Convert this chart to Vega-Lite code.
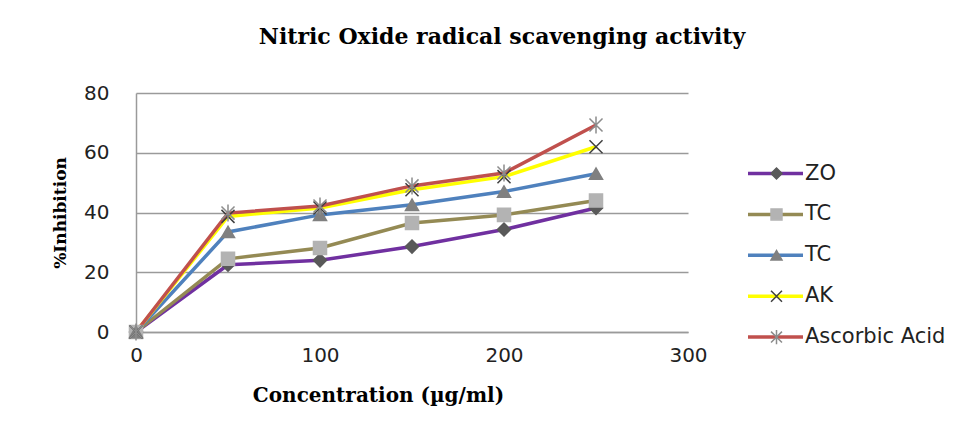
{
  "$schema": "https://vega.github.io/schema/vega-lite/v6.json",
  "autosize": "none",
  "width": 552,
  "height": 239,
  "padding": {"left": 136, "top": 93, "right": 276, "bottom": 96},
  "background": "white",
  "title": {
    "text": "Nitric Oxide radical scavenging activity",
    "font": "DejaVu Serif",
    "fontWeight": "bold",
    "fontSize": 22,
    "color": "#000000",
    "anchor": "middle",
    "dx": 90,
    "baseline": "bottom",
    "offset": 12
  },
  "data": {
    "values": [
      {"series": "ZO", "order": 1, "conc": 0, "inhibition": 0},
      {"series": "ZO", "order": 1, "conc": 50, "inhibition": 22.5},
      {"series": "ZO", "order": 1, "conc": 100, "inhibition": 24},
      {"series": "ZO", "order": 1, "conc": 150, "inhibition": 28.6},
      {"series": "ZO", "order": 1, "conc": 200, "inhibition": 34.3},
      {"series": "ZO", "order": 1, "conc": 250, "inhibition": 41.5},
      {"series": "TC1", "order": 2, "conc": 0, "inhibition": 0},
      {"series": "TC1", "order": 2, "conc": 50, "inhibition": 24.5},
      {"series": "TC1", "order": 2, "conc": 100, "inhibition": 28.1},
      {"series": "TC1", "order": 2, "conc": 150, "inhibition": 36.5},
      {"series": "TC1", "order": 2, "conc": 200, "inhibition": 39.2},
      {"series": "TC1", "order": 2, "conc": 250, "inhibition": 44},
      {"series": "TC2", "order": 3, "conc": 0, "inhibition": 0},
      {"series": "TC2", "order": 3, "conc": 50, "inhibition": 33.5},
      {"series": "TC2", "order": 3, "conc": 100, "inhibition": 39.2},
      {"series": "TC2", "order": 3, "conc": 150, "inhibition": 42.6},
      {"series": "TC2", "order": 3, "conc": 200, "inhibition": 47},
      {"series": "TC2", "order": 3, "conc": 250, "inhibition": 53},
      {"series": "AK", "order": 4, "conc": 0, "inhibition": 0},
      {"series": "AK", "order": 4, "conc": 50, "inhibition": 38.7},
      {"series": "AK", "order": 4, "conc": 100, "inhibition": 41.5},
      {"series": "AK", "order": 4, "conc": 150, "inhibition": 47.6},
      {"series": "AK", "order": 4, "conc": 200, "inhibition": 52},
      {"series": "AK", "order": 4, "conc": 250, "inhibition": 62},
      {"series": "Ascorbic Acid", "order": 5, "conc": 0, "inhibition": 0},
      {"series": "Ascorbic Acid", "order": 5, "conc": 50, "inhibition": 39.8},
      {"series": "Ascorbic Acid", "order": 5, "conc": 100, "inhibition": 42.2},
      {"series": "Ascorbic Acid", "order": 5, "conc": 150, "inhibition": 48.9},
      {"series": "Ascorbic Acid", "order": 5, "conc": 200, "inhibition": 53.2},
      {"series": "Ascorbic Acid", "order": 5, "conc": 250, "inhibition": 69.3}
    ]
  },
  "encoding": {
    "x": {
      "field": "conc",
      "type": "quantitative",
      "scale": {"domain": [0, 300], "nice": false, "zero": true},
      "axis": {
        "title": "Concentration (µg/ml)",
        "values": [0, 100, 200, 300],
        "grid": false,
        "ticks": false,
        "domainColor": "#9a9a9a",
        "domainWidth": 1.5,
        "labelFont": "DejaVu Sans",
        "labelFontSize": 20,
        "labelColor": "#222222",
        "labelPadding": 13,
        "labelFlush": false,
        "titleFont": "DejaVu Serif",
        "titleFontWeight": "bold",
        "titleFontSize": 20,
        "titleColor": "#000000",
        "titlePadding": 20,
        "titleX": 242,
        "titleAlign": "center"
      }
    },
    "y": {
      "field": "inhibition",
      "type": "quantitative",
      "scale": {"domain": [0, 80], "nice": false},
      "axis": {
        "title": "%Inhibition",
        "values": [0, 20, 40, 60, 80],
        "grid": true,
        "gridColor": "#9a9a9a",
        "gridWidth": 1.5,
        "ticks": false,
        "domainColor": "#9a9a9a",
        "domainWidth": 1.5,
        "labelFont": "DejaVu Sans",
        "labelFontSize": 20,
        "labelColor": "#222222",
        "labelPadding": 27,
        "titleFont": "DejaVu Serif",
        "titleFontWeight": "bold",
        "titleFontSize": 17,
        "titleColor": "#000000",
        "titlePadding": 14
      }
    }
  },
  "layer": [
    {
      "mark": {"type": "line", "strokeWidth": 3.5},
      "encoding": {
        "color": {
          "field": "series",
          "type": "nominal",
          "scale": {
            "domain": ["ZO", "TC1", "TC2", "AK", "Ascorbic Acid"],
            "range": ["#7030A0", "#948A54", "#4F81BD", "#FFFF00", "#C0504D"]
          },
          "legend": {
            "title": null,
            "orient": "none",
            "legendX": 629,
            "legendY": 70,
            "padding": 0,
            "symbolType": "M-5,0H5",
            "symbolSize": 121,
            "symbolStrokeWidth": 3.5,
            "labelFont": "DejaVu Sans",
            "labelFontSize": 21,
            "labelColor": "#222222",
            "labelOffset": 19,
            "labelLimit": 300,
            "rowPadding": 18.9,
            "labelExpr": "datum.label == 'TC1' || datum.label == 'TC2' ? 'TC' : datum.label"
          }
        }
      }
    },
    {
      "mark": {"type": "point", "filled": true, "size": 170, "strokeWidth": 1.5, "opacity": 1},
      "encoding": {
        "shape": {
          "field": "series",
          "type": "nominal",
          "sort": {"field": "order"},
          "scale": {
            "range": ["diamond", "square", "triangle-up", "M-1,-1L1,1M-1,1L1,-1", "M-1,-1L1,1M-1,1L1,-1M0,-1.3L0,1.3"]
          },
          "legend": {
            "title": null,
            "orient": "none",
            "legendX": 630,
            "legendY": 70,
            "padding": 0,
            "symbolSize": 120,
            "symbolStrokeWidth": 1.5,
            "labelFont": "DejaVu Sans",
            "labelFontSize": 21,
            "labelOpacity": 0,
            "labelExpr": "' '",
            "rowPadding": 18.9
          }
        },
        "fill": {
          "field": "series",
          "type": "nominal",
          "sort": {"field": "order"},
          "scale": {"range": ["#595959", "#b3b3b3", "#808080", "#404040", "#8c8c8c"]}
        },
        "stroke": {
          "field": "series",
          "type": "nominal",
          "sort": {"field": "order"},
          "scale": {"range": ["#595959", "#b3b3b3", "#808080", "#404040", "#8c8c8c"]}
        }
      }
    }
  ],
  "config": {
    "view": {"stroke": null},
    "legend": {"labelFontWeight": "normal"}
  }
}
